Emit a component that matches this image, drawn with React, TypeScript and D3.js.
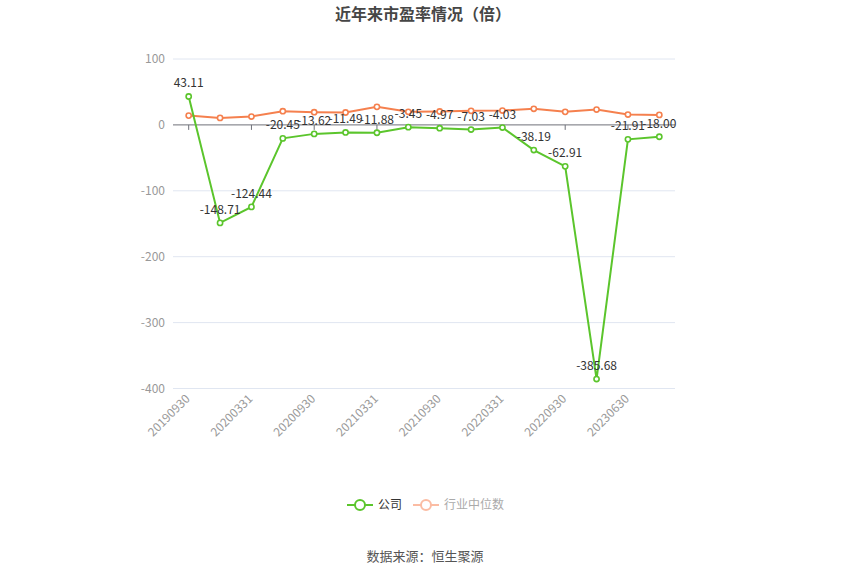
import { useEffect, useRef } from "react";
import * as d3 from "d3";

const periods = [
  "20190930", "20191231", "20200331", "20200630", "20200930", "20201231",
  "20210331", "20210630", "20210930", "20211231", "20220331", "20220630",
  "20220930", "20221231", "20230630", "20230930",
];
const companyPE = [
  43.11, -148.71, -124.44, -20.45, -13.62, -11.49, -11.88, -3.45,
  -4.97, -7.03, -4.03, -38.19, -62.91, -385.68, -21.91, -18.0,
];
const industryPE = [
  14.1, 10.6, 12.7, 20.8, 19.3, 18.8, 27.4, 19.8,
  20.3, 21.3, 21.8, 24.4, 19.8, 23.3, 15.7, 15.2,
];
const yTicks = [100, 0, -100, -200, -300, -400];

const GREEN = "#5bc52c";
const ORANGE = "#f5804e";
const FONT = "'Noto Sans CJK SC', 'Noto Sans', sans-serif";

export default function App() {
  const svgRef = useRef<SVGSVGElement>(null);

  useEffect(() => {
    if (!svgRef.current) return;
    const svg = d3.select(svgRef.current);
    svg.selectAll("*").remove();

    const W = 850, H = 574;
    const left = 173, right = 675, top = 59, bottom = 388.5;

    svg.attr("width", W).attr("height", H).style("font-family", FONT);

    // Title
    svg.append("text")
      .attr("x", 423).attr("y", 20)
      .attr("text-anchor", "middle")
      .attr("font-size", 16).attr("font-weight", "bold")
      .attr("fill", "#464646")
      .text("近年来市盈率情况（倍）");

    const x = d3.scaleBand<string>().domain(periods).range([left, right]);
    const cx = (p: string) => x(p)! + x.bandwidth() / 2;
    const y = d3.scaleLinear().domain([-400, 100]).range([bottom, top]);

    // Grid and y labels
    yTicks.forEach(t => {
      if (t !== 0) {
        svg.append("line")
          .attr("x1", left).attr("x2", right)
          .attr("y1", y(t)).attr("y2", y(t))
          .attr("stroke", "#e0e6f1").attr("stroke-width", 1);
      }
      svg.append("text")
        .attr("x", left - 8).attr("y", y(t))
        .attr("dy", "0.35em")
        .attr("text-anchor", "end")
        .attr("font-size", 12).attr("fill", "#999")
        .text(t);
    });

    // Zero axis line
    svg.append("line")
      .attr("x1", left).attr("x2", right)
      .attr("y1", y(0)).attr("y2", y(0))
      .attr("stroke", "#6e7079").attr("stroke-width", 1);

    // Ticks and x labels (every other category)
    periods.forEach((p, i) => {
      if (i % 2 !== 0) return;
      svg.append("line")
        .attr("x1", cx(p)).attr("x2", cx(p))
        .attr("y1", y(0)).attr("y2", y(0) + 5)
        .attr("stroke", "#6e7079");
      svg.append("text")
        .attr("transform", `translate(${cx(p) - 1},${bottom + 8}) rotate(-45)`)
        .attr("text-anchor", "end")
        .attr("dy", "0.35em")
        .attr("font-size", 12).attr("fill", "#999")
        .text(p);
    });

    const drawSeries = (vals: number[], color: string) => {
      const line = d3.line<number>()
        .x((_, i) => cx(periods[i]))
        .y(d => y(d));
      svg.append("path")
        .datum(vals)
        .attr("fill", "none")
        .attr("stroke", color)
        .attr("stroke-width", 2)
        .attr("d", line);
      svg.append("g").selectAll("circle")
        .data(vals)
        .join("circle")
        .attr("cx", (_, i) => cx(periods[i]))
        .attr("cy", d => y(d))
        .attr("r", 2.6)
        .attr("fill", "#fff")
        .attr("stroke", color)
        .attr("stroke-width", 1.6);
    };

    drawSeries(industryPE, ORANGE);
    drawSeries(companyPE, GREEN);

    // Data labels for company
    svg.append("g").selectAll("text")
      .data(companyPE)
      .join("text")
      .attr("x", (_, i) => cx(periods[i]))
      .attr("y", d => y(d) - 9)
      .attr("text-anchor", "middle")
      .attr("font-size", 12).attr("fill", "#333")
      .text(d => d.toFixed(2));

    // Legend
    const legend = [
      { name: "公司", color: GREEN, text: "#333", x: 347 },
      { name: "行业中位数", color: "#fbbca3", text: "#aaa", x: 413 },
    ];
    legend.forEach(l => {
      svg.append("line")
        .attr("x1", l.x).attr("x2", l.x + 26)
        .attr("y1", 505).attr("y2", 505)
        .attr("stroke", l.color).attr("stroke-width", 2);
      svg.append("circle")
        .attr("cx", l.x + 13).attr("cy", 505).attr("r", 5)
        .attr("fill", "#fff").attr("stroke", l.color).attr("stroke-width", 2);
      svg.append("text")
        .attr("x", l.x + 31).attr("y", 505)
        .attr("dy", "0.35em")
        .attr("font-size", 12).attr("fill", l.text)
        .text(l.name);
    });

    // Source
    svg.append("text")
      .attr("x", 425).attr("y", 556)
      .attr("dy", "0.35em")
      .attr("text-anchor", "middle")
      .attr("font-size", 13).attr("fill", "#555")
      .text("数据来源：恒生聚源");
  }, []);

  return (
    <div style={{ position: "absolute", left: 0, top: 0, width: 850, height: 574, background: "#fff" }}>
      <svg ref={svgRef}></svg>
    </div>
  );
}
